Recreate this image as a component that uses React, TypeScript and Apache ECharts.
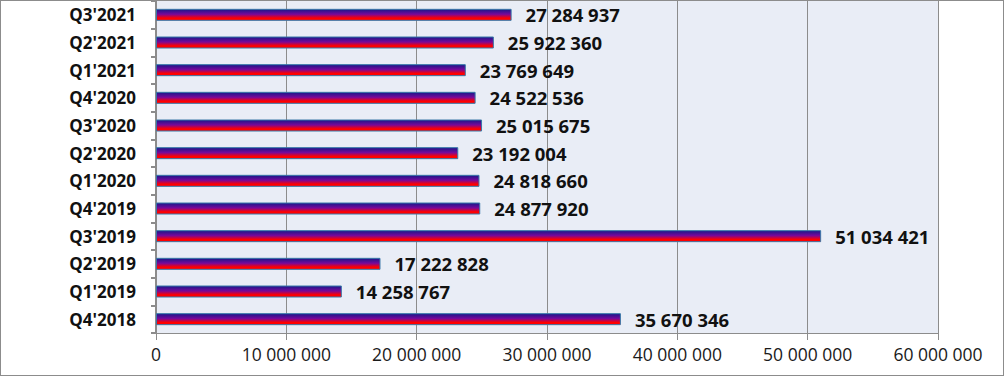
import React, { useEffect, useRef } from "react";
import * as echarts from "echarts";

const categories = ["Q4'2018", "Q1'2019", "Q2'2019", "Q3'2019", "Q4'2019", "Q1'2020", "Q2'2020", "Q3'2020", "Q4'2020", "Q1'2021", "Q2'2021", "Q3'2021"];
const values = [35670346, 14258767, 17222828, 51034421, 24877920, 24818660, 23192004, 25015675, 24522536, 23769649, 25922360, 27284937];
const xMin = 0;
const xMax = 60000000;
const xInterval = 10000000;

const fmt = (v: number) => String(Math.round(v)).replace(/\B(?=(\d{3})+(?!\d))/g, " ");

export default function App() {
  const ref = useRef<HTMLDivElement>(null);
  useEffect(() => {
    if (!ref.current) return;
    const chart = echarts.init(ref.current, null, { renderer: "svg" });
    chart.setOption({
      animation: false,
      backgroundColor: "#ffffff",
      textStyle: { fontFamily: "Open Sans" },
      grid: { left: 156, right: 66, top: 1, bottom: 43, show: true, backgroundColor: "#E9EDF6", borderWidth: 0 },
      xAxis: {
        type: "value",
        min: xMin,
        max: xMax,
        interval: xInterval,
        axisLine: { show: true, lineStyle: { color: "#8c8c8c", width: 1 } },
        axisTick: { show: true, length: 7, lineStyle: { color: "#8c8c8c" } },
        splitLine: { show: true, lineStyle: { color: "#8c8c8c", width: 1 } },
        axisLabel: { formatter: (v: number) => fmt(v), color: "#1a1a1a", fontSize: 17.5, fontFamily: "Open Sans", margin: 12 },
      },
      yAxis: {
        type: "category",
        data: categories,
        axisLine: { show: true, lineStyle: { color: "#8c8c8c", width: 2 } },
        axisTick: { show: true, length: 5, lineStyle: { color: "#8c8c8c", width: 2 } },
        axisLabel: { color: "#111111", fontSize: 17, fontWeight: "bold", fontFamily: "Open Sans", margin: 20 },
      },
      series: [
        {
          type: "bar",
          data: values,
          barWidth: 12,
          itemStyle: {
            borderColor: "#3a78a8",
            borderWidth: 1,
            color: new echarts.graphic.LinearGradient(0, 0, 0, 1, [
              { offset: 0, color: "#18188a" },
              { offset: 0.45, color: "#78089a" },
              { offset: 0.8, color: "#ff0000" },
              { offset: 1, color: "#ff0000" },
            ]),
          },
          label: {
            show: true,
            position: "right",
            distance: 14,
            formatter: (p: any) => fmt(p.value),
            color: "#111111",
            fontSize: 18.5,
            fontWeight: "bold",
            fontFamily: "Open Sans",
          },
        },
      ],
    });
    return () => chart.dispose();
  }, []);
  return (
    <div style={{ position: "fixed", left: 0, top: 0, width: 1004, height: 376 }}>
      <div ref={ref} style={{ position: "absolute", left: 0, top: 0, width: 1004, height: 376 }} />
      <div
        style={{
          position: "absolute",
          left: 0,
          top: 0,
          width: 1004,
          height: 376,
          boxSizing: "border-box",
          border: "1.5px solid #8c8c8c",
          pointerEvents: "none",
        }}
      />
    </div>
  );
}
